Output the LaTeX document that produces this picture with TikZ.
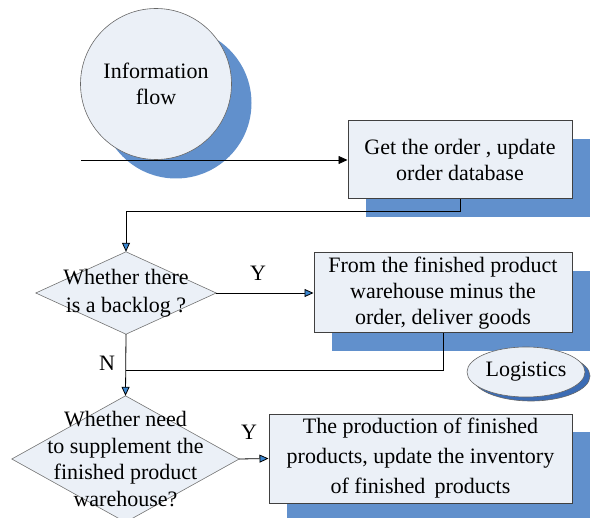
\documentclass[tikz,border=0pt]{standalone}
\usepackage{fontspec}
\setmainfont{Liberation Serif}
\usetikzlibrary{shapes.geometric,shadows,arrows.meta,backgrounds}
\definecolor{shadowblue}{HTML}{6190CC}
\definecolor{boxfill}{HTML}{EBF0F7}
\definecolor{tipblue}{HTML}{3A86D0}
\definecolor{darkshadow}{HTML}{3C6CB4}
\tikzset{
  txt/.style={font=\fontsize{22}{26}\selectfont},
  proc/.style={txt, draw=black!75, line width=1pt, fill=boxfill, align=center, inner sep=0pt,
    drop shadow={shadow xshift=18pt,shadow yshift=-18pt,fill=shadowblue,opacity=1}},
  dectext/.style={txt, align=center, inner sep=0pt},
  decshape/.style={draw=black!55, line width=0.6pt, fill=boxfill},
  link/.style={draw=black, line width=0.8pt},
  bluetip/.style={-{Triangle[length=9pt,width=8pt,fill=tipblue]}},
  blacktip/.style={-{Triangle[length=9pt,width=8pt,fill=black]}},
}
\begin{document}
\begin{tikzpicture}[x=1pt,y=-1pt]
\useasboundingbox (0,0) rectangle (597,518);
% information flow circle
\node[txt, circle, draw=black!60, line width=0.6pt, fill=boxfill, minimum size=151pt, inner sep=0pt, align=center,
  drop shadow={shadow xshift=20pt,shadow yshift=-19pt,fill=shadowblue,opacity=1}]
  (info) at (156,84) {Information\\flow};
% process boxes
\node[proc, minimum width=224pt, minimum height=78pt] (b1) at (460,160) {Get the order , update\\order database};
\node[proc, minimum width=258pt, minimum height=80pt] (b2) at (443,293) {From the finished product\\warehouse minus the\\order, deliver goods};
\node[proc, minimum width=303pt, minimum height=89pt, font=\fontsize{22}{30}\selectfont] (b3) at (420.5,458.5) {The production of finished\\products, update the inventory\\of finished\ \,products};
% logistics ellipse
\node[txt, ellipse, draw=black!60, line width=0.6pt, fill=boxfill, minimum width=118pt, minimum height=50pt, inner sep=0pt,
  drop shadow={shadow xshift=5pt,shadow yshift=-4pt,fill=darkshadow,draw=black!60,opacity=1}]
  (log) at (526,372) {Logistics};
% decisions
\node[dectext, minimum width=180pt, minimum height=82pt, font=\fontsize{22}{28}\selectfont] (d1) at (126,293) {Whether there\\is a backlog ?};
\node[dectext, minimum width=227pt, minimum height=126pt, font=\fontsize{22}{26.5}\selectfont] (d2) at (125.5,459) {Whether need\\to supplement the\\finished product\\warehouse?};
\begin{scope}[on background layer]
  \path[decshape] (d1.north) -- (d1.east) -- (d1.south) -- (d1.west) -- cycle;
  \path[decshape] (d2.north) -- (d2.east) -- (d2.south) -- (d2.west) -- cycle;
\end{scope}
% connectors
\coordinate (start) at (81,160);
\coordinate (join) at (126,370);
\draw[link, blacktip] (start) -- (b1.west);
\draw[link, bluetip] (b1.south) -- ++(0,12) -| (d1.north);
\draw[link, bluetip] (d1.east) -- (b2.west);
\draw[link, bluetip] (d1.south) -- (d2.north);
\draw[link] (b2.south) |- (join);
\draw[link, bluetip] (d2.east) -- (b3.west);
% labels
\node[txt] (y1) at (258,273) {Y};
\node[txt] (n1) at (107,363) {N};
\node[txt] (y2) at (249,432) {Y};
\end{tikzpicture}
\end{document}
